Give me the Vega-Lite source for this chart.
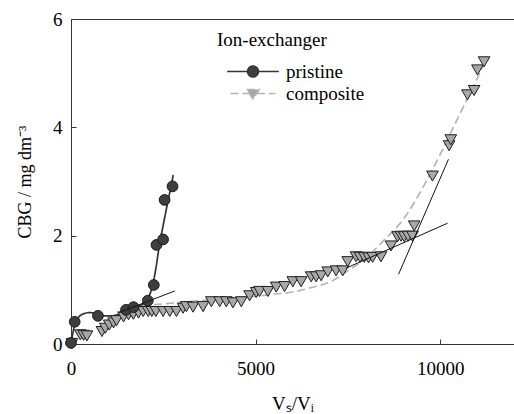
{
  "$schema": "https://vega.github.io/schema/vega-lite/v6.json",
  "width": 443,
  "height": 325,
  "autosize": "none",
  "padding": {"left": 71, "top": 19, "right": 0, "bottom": 70},
  "background": "white",
  "view": {"stroke": "#333333", "strokeWidth": 1},
  "datasets": {
    "curves": [
      {"series": "composite", "x": 1600, "y": 0.70},
      {"series": "composite", "x": 2000, "y": 0.72},
      {"series": "composite", "x": 2500, "y": 0.74},
      {"series": "composite", "x": 3000, "y": 0.77},
      {"series": "composite", "x": 3500, "y": 0.80},
      {"series": "composite", "x": 4000, "y": 0.83},
      {"series": "composite", "x": 4500, "y": 0.86},
      {"series": "composite", "x": 5000, "y": 0.88},
      {"series": "composite", "x": 5500, "y": 0.92},
      {"series": "composite", "x": 6000, "y": 0.96},
      {"series": "composite", "x": 6500, "y": 1.04},
      {"series": "composite", "x": 7000, "y": 1.14},
      {"series": "composite", "x": 7500, "y": 1.35},
      {"series": "composite", "x": 8000, "y": 1.60},
      {"series": "composite", "x": 8500, "y": 1.93},
      {"series": "composite", "x": 9000, "y": 2.30},
      {"series": "composite", "x": 9500, "y": 2.85},
      {"series": "composite", "x": 10000, "y": 3.50},
      {"series": "composite", "x": 10500, "y": 4.20},
      {"series": "composite", "x": 11000, "y": 4.90},
      {"series": "composite", "x": 11240, "y": 5.25},
      {"series": "pristine", "x": 0, "y": 0},
      {"series": "pristine", "x": 50, "y": 0.20},
      {"series": "pristine", "x": 100, "y": 0.36},
      {"series": "pristine", "x": 200, "y": 0.49},
      {"series": "pristine", "x": 350, "y": 0.56},
      {"series": "pristine", "x": 500, "y": 0.58},
      {"series": "pristine", "x": 700, "y": 0.56},
      {"series": "pristine", "x": 900, "y": 0.52},
      {"series": "pristine", "x": 1100, "y": 0.52},
      {"series": "pristine", "x": 1300, "y": 0.55},
      {"series": "pristine", "x": 1500, "y": 0.60},
      {"series": "pristine", "x": 1700, "y": 0.66},
      {"series": "pristine", "x": 1900, "y": 0.72},
      {"series": "pristine", "x": 2000, "y": 0.77},
      {"series": "pristine", "x": 2100, "y": 0.87},
      {"series": "pristine", "x": 2200, "y": 1.05},
      {"series": "pristine", "x": 2300, "y": 1.40},
      {"series": "pristine", "x": 2400, "y": 1.85},
      {"series": "pristine", "x": 2500, "y": 2.20},
      {"series": "pristine", "x": 2600, "y": 2.55},
      {"series": "pristine", "x": 2700, "y": 2.88},
      {"series": "pristine", "x": 2770, "y": 3.12}
    ],
    "points": [
      {"series": "composite", "x": 27, "y": 0.01},
      {"series": "composite", "x": 252, "y": 0.17},
      {"series": "composite", "x": 342, "y": 0.16},
      {"series": "composite", "x": 432, "y": 0.15},
      {"series": "composite", "x": 838, "y": 0.23},
      {"series": "composite", "x": 928, "y": 0.29},
      {"series": "composite", "x": 1036, "y": 0.35},
      {"series": "composite", "x": 1153, "y": 0.39},
      {"series": "composite", "x": 1234, "y": 0.43},
      {"series": "composite", "x": 1423, "y": 0.50},
      {"series": "composite", "x": 1558, "y": 0.54},
      {"series": "composite", "x": 1690, "y": 0.55},
      {"series": "composite", "x": 1829, "y": 0.57},
      {"series": "composite", "x": 1955, "y": 0.60},
      {"series": "composite", "x": 2090, "y": 0.60},
      {"series": "composite", "x": 2189, "y": 0.60},
      {"series": "composite", "x": 2300, "y": 0.60},
      {"series": "composite", "x": 2495, "y": 0.60},
      {"series": "composite", "x": 2676, "y": 0.60},
      {"series": "composite", "x": 2856, "y": 0.60},
      {"series": "composite", "x": 3036, "y": 0.66},
      {"series": "composite", "x": 3126, "y": 0.69},
      {"series": "composite", "x": 3306, "y": 0.68},
      {"series": "composite", "x": 3577, "y": 0.69},
      {"series": "composite", "x": 3802, "y": 0.78},
      {"series": "composite", "x": 4027, "y": 0.78},
      {"series": "composite", "x": 4207, "y": 0.78},
      {"series": "composite", "x": 4387, "y": 0.76},
      {"series": "composite", "x": 4613, "y": 0.78},
      {"series": "composite", "x": 4838, "y": 0.89},
      {"series": "composite", "x": 5018, "y": 0.95},
      {"series": "composite", "x": 5108, "y": 0.97},
      {"series": "composite", "x": 5333, "y": 0.97},
      {"series": "composite", "x": 5559, "y": 1.05},
      {"series": "composite", "x": 5784, "y": 1.06},
      {"series": "composite", "x": 6009, "y": 1.15},
      {"series": "composite", "x": 6234, "y": 1.15},
      {"series": "composite", "x": 6505, "y": 1.24},
      {"series": "composite", "x": 6640, "y": 1.24},
      {"series": "composite", "x": 6775, "y": 1.26},
      {"series": "composite", "x": 6955, "y": 1.33},
      {"series": "composite", "x": 7180, "y": 1.35},
      {"series": "composite", "x": 7360, "y": 1.35},
      {"series": "composite", "x": 7495, "y": 1.52},
      {"series": "composite", "x": 7721, "y": 1.61},
      {"series": "composite", "x": 7830, "y": 1.60},
      {"series": "composite", "x": 7946, "y": 1.60},
      {"series": "composite", "x": 8060, "y": 1.59},
      {"series": "composite", "x": 8171, "y": 1.60},
      {"series": "composite", "x": 8396, "y": 1.61},
      {"series": "composite", "x": 8667, "y": 1.81},
      {"series": "composite", "x": 8847, "y": 1.98},
      {"series": "composite", "x": 8940, "y": 1.99},
      {"series": "composite", "x": 9027, "y": 1.98},
      {"series": "composite", "x": 9130, "y": 1.99},
      {"series": "composite", "x": 9252, "y": 1.99},
      {"series": "composite", "x": 9297, "y": 2.18},
      {"series": "composite", "x": 9792, "y": 3.10},
      {"series": "composite", "x": 10243, "y": 3.66},
      {"series": "composite", "x": 10288, "y": 3.77},
      {"series": "composite", "x": 10739, "y": 4.60},
      {"series": "composite", "x": 10919, "y": 4.68},
      {"series": "composite", "x": 11009, "y": 5.06},
      {"series": "composite", "x": 11189, "y": 5.21},
      {"series": "pristine", "x": 0, "y": 0.02},
      {"series": "pristine", "x": 100, "y": 0.41},
      {"series": "pristine", "x": 730, "y": 0.52},
      {"series": "pristine", "x": 1490, "y": 0.63},
      {"series": "pristine", "x": 1694, "y": 0.68},
      {"series": "pristine", "x": 2081, "y": 0.80},
      {"series": "pristine", "x": 2243, "y": 1.09},
      {"series": "pristine", "x": 2315, "y": 1.83},
      {"series": "pristine", "x": 2495, "y": 1.93},
      {"series": "pristine", "x": 2535, "y": 2.66},
      {"series": "pristine", "x": 2750, "y": 2.91}
    ],
    "tangents": [
      {"seg": "p1", "x": 1300, "y": 0.58},
      {"seg": "p1", "x": 2811, "y": 0.98},
      {"seg": "c1", "x": 7450, "y": 1.40},
      {"seg": "c1", "x": 10200, "y": 2.23},
      {"seg": "c2", "x": 8874, "y": 1.29},
      {"seg": "c2", "x": 10225, "y": 3.41}
    ]
  },
  "layer": [
    {
      "data": {"name": "curves"},
      "mark": {"type": "point", "filled": true, "opacity": 0},
      "encoding": {
        "x": {"field": "x", "type": "quantitative", "scale": {"domain": [0, 12000], "nice": false, "zero": false},
          "axis": {"orient": "bottom", "values": [0, 5000, 10000], "format": "d", "title": "Vₛ/Vᵢ", "labelPadding": 20, "titlePadding": 16,
            "labelFont": "Liberation Serif", "labelFontSize": 19, "titleFont": "Liberation Serif", "titleFontSize": 19}},
        "y": {"field": "y", "type": "quantitative", "scale": {"domain": [0, 6], "nice": false},
          "axis": {"orient": "left", "values": [0, 2, 4, 6], "format": "d", "title": "CBG / mg dm⁻³", "labelPadding": 14, "titlePadding": 18,
            "labelFont": "Liberation Serif", "labelFontSize": 19, "titleFont": "Liberation Serif", "titleFontSize": 18}},
        "shape": {"field": "series", "type": "nominal", "title": "Ion-exchanger",
          "scale": {"domain": ["pristine", "composite"], "range": [
            "M-4.7,0L-1,0M1,0L4.7,0M-1,0A1,1,0,1,1,1,0A1,1,0,1,1,-1,0Z",
            "M-4.1,0L-0.7,0M0.7,0L4.1,0M-1.15,-0.72L1.15,-0.72L0,1.02Z"]},
          "legend": {"orient": "none", "legendX": 146, "legendY": 12, "labelFont": "Liberation Serif", "labelFontSize": 19, "symbolOpacity": 1}},
        "fill": {"field": "series", "type": "nominal", "title": "Ion-exchanger",
          "scale": {"domain": ["pristine", "composite"], "range": ["#3e3e3e", "#a8a8a8"]},
          "legend": {"orient": "none", "legendX": 146, "legendY": 12, "labelFont": "Liberation Serif", "labelFontSize": 19, "symbolOpacity": 1}}
      }
    },
    {
      "data": {"name": "curves"},
      "mark": {"type": "line", "interpolate": "monotone", "strokeWidth": 1.7},
      "encoding": {
        "x": {"field": "x", "type": "quantitative"},
        "y": {"field": "y", "type": "quantitative"},
        "stroke": {"field": "series", "type": "nominal", "title": "Ion-exchanger",
          "scale": {"domain": ["pristine", "composite"], "range": ["#333333", "#b3b3b3"]},
          "legend": {"orient": "none", "legendX": 146, "legendY": 12, "labelFont": "Liberation Serif", "labelFontSize": 19, "symbolOpacity": 1}},
        "strokeDash": {"field": "series", "type": "nominal", "title": "Ion-exchanger",
          "scale": {"domain": ["pristine", "composite"], "range": [[1, 0], [8, 4]]},
          "legend": {"orient": "none", "legendX": 146, "legendY": 12, "labelFont": "Liberation Serif", "labelFontSize": 19, "symbolOpacity": 1}},
        "order": {"field": "x", "type": "quantitative"}
      }
    },
    {
      "data": {"name": "points"},
      "transform": [{"filter": "datum.series === 'composite'"}],
      "mark": {"type": "point", "shape": "triangle-down", "size": 135, "filled": true, "opacity": 1, "stroke": "#1e1e1e", "strokeWidth": 1},
      "encoding": {
        "x": {"field": "x", "type": "quantitative"},
        "y": {"field": "y", "type": "quantitative"},
        "fill": {"field": "series", "type": "nominal", "legend": null}
      }
    },
    {
      "data": {"name": "points"},
      "transform": [{"filter": "datum.series === 'pristine'"}],
      "mark": {"type": "point", "shape": "circle", "size": 115, "filled": true, "opacity": 1, "stroke": "#1a1a1a", "strokeWidth": 1},
      "encoding": {
        "x": {"field": "x", "type": "quantitative"},
        "y": {"field": "y", "type": "quantitative"},
        "fill": {"field": "series", "type": "nominal", "legend": null}
      }
    },
    {
      "data": {"name": "tangents"},
      "mark": {"type": "line", "color": "#111111", "strokeWidth": 1},
      "encoding": {
        "x": {"field": "x", "type": "quantitative"},
        "y": {"field": "y", "type": "quantitative"},
        "detail": {"field": "seg", "type": "nominal"}
      }
    }
  ],
  "config": {
    "style": {"guide-label": {"font": "Liberation Serif", "fontSize": 19, "fill": "#000000"}, "guide-title": {"font": "Liberation Serif"}},
    "axis": {
      "grid": false,
      "tickSize": -5,
      "tickColor": "#333333",
      "domainColor": "#333333",
      "domainWidth": 1,
      "tickWidth": 1,
      "labelFont": "Liberation Serif",
      "labelColor": "#000000",
      "labelFlush": false,
      "labelOverlap": false,
      "titleFontWeight": "normal",
      "titleColor": "#000000"
    },
    "legend": {
      "padding": 0,
      "titleFont": "Liberation Serif",
      "titleFontSize": 19,
      "titleFontWeight": "normal",
      "titleColor": "#000000",
      "titlePadding": 12,
      "labelFont": "Liberation Serif",
      "labelColor": "#000000",
      "symbolOffset": 26.5,
      "labelOffset": 23.5,
      "rowPadding": 2,
      "symbolSize": 121,
      "symbolStrokeWidth": 1.4
    }
  }
}
